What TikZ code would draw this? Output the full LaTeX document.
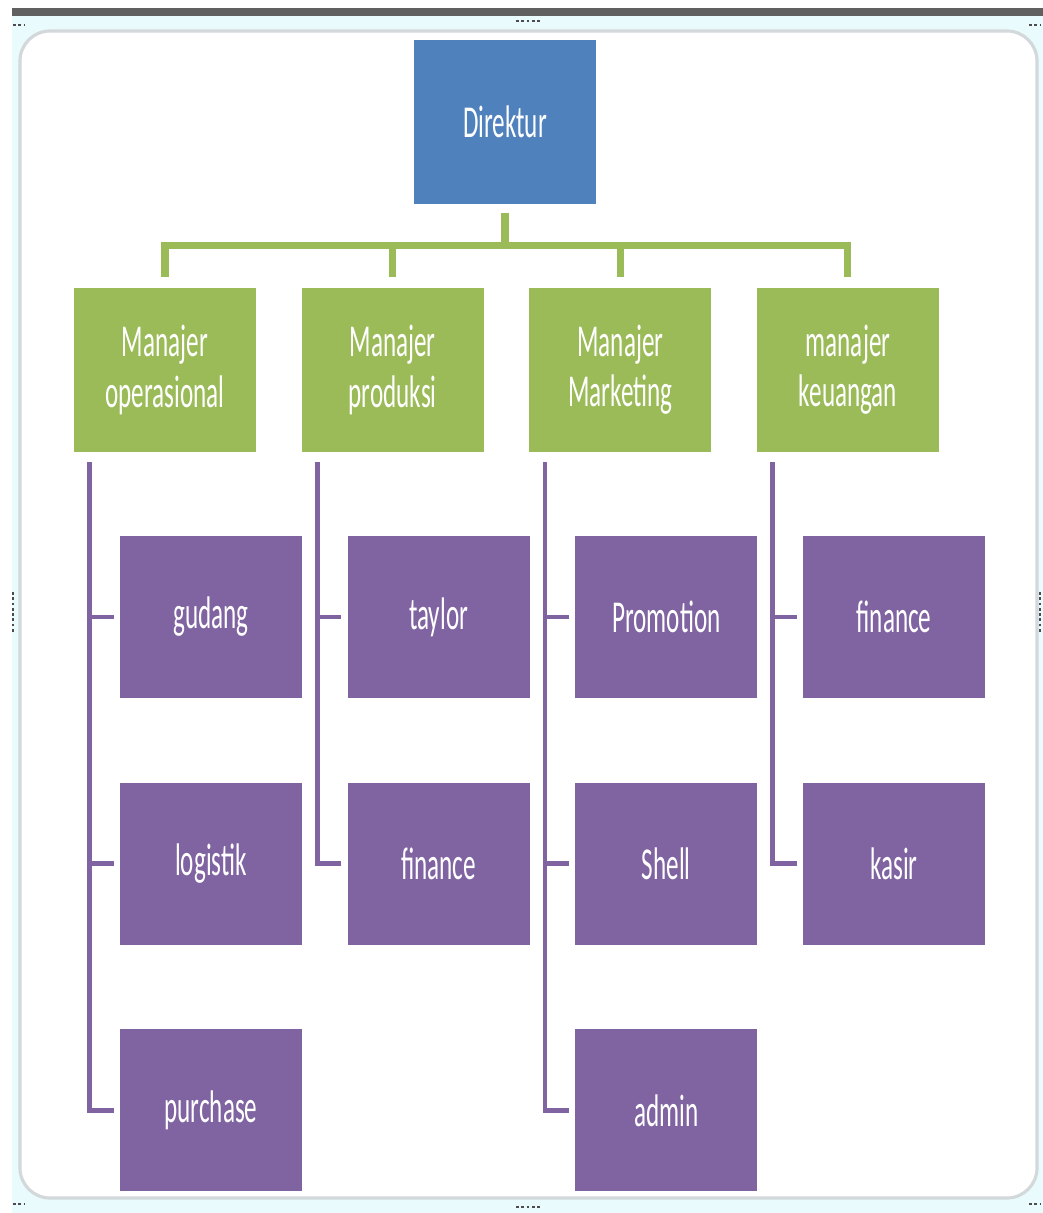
\documentclass[tikz,border=0pt]{standalone}
\usepackage{fontspec}
\newfontfamily\boxfont[FakeStretch=0.55]{Carlito}
\usetikzlibrary{calc,positioning}
\definecolor{dirblue}{HTML}{4F81BD}
\definecolor{mgrgreen}{HTML}{9BBB59}
\definecolor{unitpurple}{HTML}{8064A2}
\definecolor{framecyan}{HTML}{E9FBFC}
\definecolor{framegray}{HTML}{D3D8DB}
\tikzset{
    box/.style={rectangle,text=white,align=center,inner sep=0pt,
        font=\boxfont\fontsize{26}{28.5}\selectfont,
        minimum width=3.64cm,minimum height=3.24cm},
    dirbox/.style={box,fill=dirblue,minimum height=3.3cm},
    mgrbox/.style={box,fill=mgrgreen,minimum height=3.28cm},
    unitbox/.style={box,fill=unitpurple},
    greenline/.style={draw=mgrgreen,line width=4pt},
    purpleline/.style={draw=unitpurple,line width=2.8pt},
    handle/.style={draw=gray!60!black,line width=1.6pt,dash pattern=on 1.6pt off 1.4pt},
}

\begin{document}
\begin{tikzpicture}[x=0.02cm,y=-0.02cm]
    % screenshot frame
    \useasboundingbox (0,0) rectangle (1043,1213);
    \fill[framecyan] (12,16) rectangle (1043,1213);
    \fill[gray!75!black] (12,8) rectangle (1043,16);
    \draw[framegray,line width=1.8pt,fill=white,rounded corners=0.6cm] (20,31) rectangle (1037,1198);
    \draw[handle] (516,21) -- (542,21);
    \draw[handle] (516,1207) -- (542,1207);
    \draw[handle] (13,592) -- (13,632);
    \draw[handle] (1040,592) -- (1040,632);
    \draw[handle] (13,25) -- (24,25);
    \draw[handle] (1029,25) -- (1040,25);
    \draw[handle] (13,1204) -- (24,1204);
    \draw[handle] (1029,1204) -- (1040,1204);
    %
    \node[dirbox] (Direktur) at (505,122) {Direktur};
    \node[mgrbox] (Operasional) at (165,370) {Manajer\\operasional};
    \node[mgrbox,right=0.9cm of Operasional] (Produksi) {Manajer\\produksi};
    \node[mgrbox,right=0.9cm of Produksi] (Marketing) {Manajer\\Marketing};
    \node[mgrbox,right=0.9cm of Marketing] (Keuangan) {manajer\\keuangan};
    %
    \node[unitbox] (Gudang) at ($(Operasional)+(46,247)$) {gudang};
    \node[unitbox,below=1.68cm of Gudang] (Logistik) {logistik};
    \node[unitbox,below=1.68cm of Logistik] (Purchase) {purchase};
    \node[unitbox] (Taylor) at ($(Produksi)+(46,247)$) {taylor};
    \node[unitbox,below=1.68cm of Taylor] (FinanceP) {finance};
    \node[unitbox] (Promotion) at ($(Marketing)+(46,247)$) {Promotion};
    \node[unitbox,below=1.68cm of Promotion] (Shell) {Shell};
    \node[unitbox,below=1.68cm of Shell] (Admin) {admin};
    \node[unitbox] (FinanceK) at ($(Keuangan)+(46,247)$) {finance};
    \node[unitbox,below=1.68cm of FinanceK] (Kasir) {kasir};
    %
    % green connectors
    \foreach \mgr in {Operasional,Produksi,Marketing,Keuangan}
        \draw[greenline] ($(Direktur.south)+(0,8)$) -- ++(0,33) -| ($(\mgr.north)+(0,-11)$);
    % purple connectors
    \foreach \mgr/\unit in {Operasional/Gudang,Operasional/Logistik,Operasional/Purchase,
        Produksi/Taylor,Produksi/FinanceP,Marketing/Promotion,Marketing/Shell,Marketing/Admin,
        Keuangan/FinanceK,Keuangan/Kasir}
        \draw[purpleline] ($(\mgr.south west)+(16,10)$) |- ($(\unit.west)+(-6,0)$);
\end{tikzpicture}
\end{document}
